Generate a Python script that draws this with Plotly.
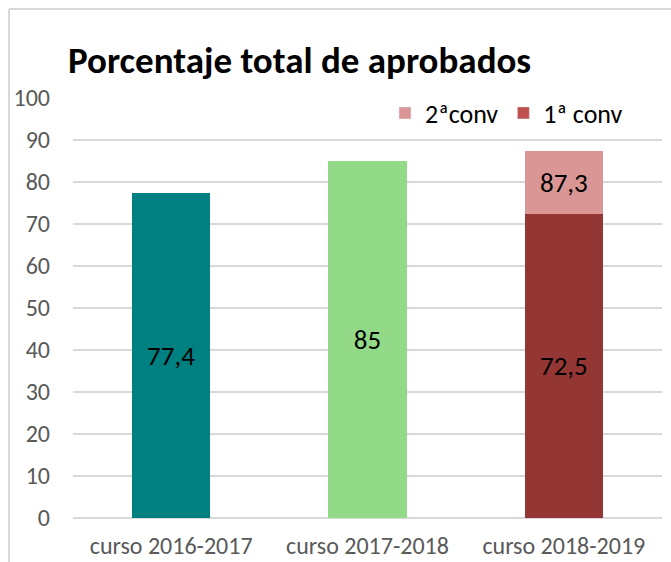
import plotly.graph_objects as go

categories = ["curso 2016-2017", "curso 2017-2018", "curso 2018-2019"]
conv1 = [77.4, 85, 72.5]
conv1_labels = ["77,4", "85", "72,5"]
conv2 = [None, None, 14.8]
conv2_labels = ["", "", "87,3"]
bar_colors = ["#008080", "#92D988", "#943634"]
legend_names = ["2ªconv", "1ª conv"]
legend_colors = ["#D99694", "#C0504D"]
y_ticks = list(range(0, 101, 10))

font_family = "Carlito, Calibri, Lato, 'Open Sans', sans-serif"

fig = go.Figure()
fig.add_trace(go.Bar(
    x=categories, y=conv1, text=conv1_labels, textposition="inside",
    insidetextanchor="middle", textangle=0,
    textfont=dict(size=27, color="#000000", family=font_family),
    marker=dict(color=bar_colors, line=dict(width=0)),
    showlegend=False, hoverinfo="x+y",
))
fig.add_trace(go.Bar(
    x=categories, y=conv2, text=conv2_labels, textposition="inside",
    insidetextanchor="middle", textangle=0,
    textfont=dict(size=27, color="#000000", family=font_family),
    marker=dict(color=legend_colors[0], line=dict(width=0)),
    showlegend=False, hoverinfo="x+y",
))
for name, col in zip(legend_names, legend_colors):
    fig.add_trace(go.Bar(x=[categories[0]], y=[None], name=name,
                         marker=dict(color=col), showlegend=True))

W, H = 671, 562
l, r, t, b = 73, 9, 98, 44
pw, ph = W - l - r, H - t - b
bx = (9 - l) / pw
by = (H - b - 9) / ph

fig.update_layout(
    width=W, height=H,
    margin=dict(l=l, r=r, t=t, b=b, autoexpand=False),
    barmode="stack", bargap=0.6,
    paper_bgcolor="white", plot_bgcolor="white",
    font=dict(family=font_family, color="#595959"),
    title=dict(text="<b>Porcentaje total de aprobados</b>",
               font=dict(size=37, color="#000000", family=font_family),
               x=68 / W, xanchor="left", y=1 - 60 / H, yanchor="middle"),
    legend=dict(orientation="h", x=(628 - l) / pw, xanchor="right", y=1 - (113 - t) / ph, yanchor="middle",
                font=dict(size=26, color="#000000", family=font_family),
                bgcolor="rgba(0,0,0,0)", traceorder="normal", itemwidth=30),
    xaxis=dict(showgrid=False, showline=False, ticks="", ticklabelstandoff=11,
               automargin=False,
               tickfont=dict(size=24, color="#595959"), fixedrange=True),
    yaxis=dict(range=[0, 100], tickvals=y_ticks, showgrid=True, gridcolor="#D9D9D9",
               gridwidth=2, zeroline=True, zerolinecolor="#D9D9D9", zerolinewidth=2,
               showline=False, ticks="", ticklabelstandoff=22, automargin=False,
               tickfont=dict(size=24, color="#595959"), fixedrange=True),
    shapes=[
        dict(type="line", xref="paper", yref="paper", x0=bx, x1=bx, y0=-0.2, y1=by,
             line=dict(color="#D9D9D9", width=2)),
        dict(type="line", xref="paper", yref="paper", x0=bx, x1=1.1, y0=by, y1=by,
             line=dict(color="#D9D9D9", width=2)),
    ],
)
fig.write_html("out.html")
